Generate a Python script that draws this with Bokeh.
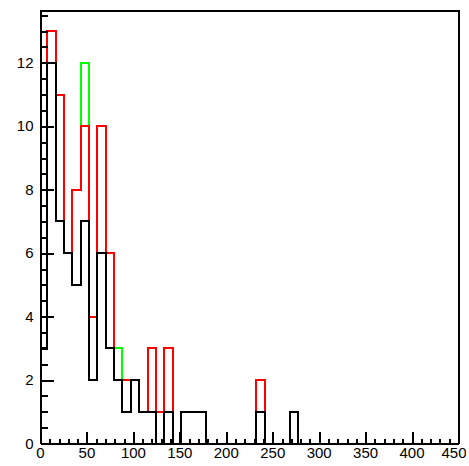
from bokeh.plotting import figure
from bokeh.models import FixedTicker, Range1d, InlineStyleSheet
from bokeh.embed import file_html
from bokeh.resources import INLINE

# Histogram binning (data units)
bin_lo = -1.8
bin_width = 9.0
n_bins = 50

# Bin contents (bins 0..30, rest empty)
green_counts = [3, 13, 11, 6, 8, 12, 4, 10, 6, 3, 2, 2, 1, 3, 1, 3, 0, 1, 1, 1,
                0, 0, 0, 0, 0, 0, 2, 0, 0, 0, 1]
red_counts = [3, 13, 11, 6, 8, 10, 4, 10, 6, 2, 2, 2, 1, 3, 1, 3, 0, 1, 1, 1,
              0, 0, 0, 0, 0, 0, 2, 0, 0, 0, 1]
black_counts = [3, 12, 7, 6, 5, 7, 2, 6, 3, 2, 1, 2, 1, 1, 0, 1, 0, 1, 1, 1,
                0, 0, 0, 0, 0, 0, 1, 0, 0, 0, 1]

x_ticks = [0, 50, 100, 150, 200, 250, 300, 350, 400, 450]
x_minor = list(range(0, 451, 10))
y_ticks = [0, 2, 4, 6, 8, 10, 12]
y_minor = [i * 0.5 for i in range(0, 28)]

x_max = 450
y_max = 13.65

edges = [bin_lo + bin_width * i for i in range(n_bins + 1)]


def padded(c):
    return list(c) + [0] * (n_bins - len(c)) + [0]


p = figure(width=466, height=464, output_backend="svg", toolbar_location=None,
           x_range=Range1d(0, x_max), y_range=Range1d(0, y_max),
           min_border_left=40, min_border_right=8, min_border_top=10,
           min_border_bottom=21)
p.stylesheets = [InlineStyleSheet(css=":host { shape-rendering: crispEdges; }")]
p.background_fill_color = "white"
p.border_fill_color = "white"
p.xgrid.visible = False
p.ygrid.visible = False
p.outline_line_color = "black"
p.outline_line_width = 2
p.outline_line_alpha = 1.0

for counts, col in [(green_counts, "#00ff00"), (red_counts, "#ff0000"),
                    (black_counts, "black")]:
    p.step(edges, padded(counts), mode="after", line_color=col,
           line_width=2, line_join="miter")

p.xaxis.ticker = FixedTicker(ticks=x_ticks, minor_ticks=x_minor)
p.yaxis.ticker = FixedTicker(ticks=y_ticks, minor_ticks=y_minor)

for ax in (p.xaxis[0], p.yaxis[0]):
    ax.axis_line_color = "black"
    ax.axis_line_width = 2
    ax.major_tick_line_color = "black"
    ax.minor_tick_line_color = "black"
    ax.major_tick_line_width = 2
    ax.minor_tick_line_width = 2
    ax.major_tick_out = 0
    ax.minor_tick_out = 0
    ax.major_label_text_font = "Liberation Sans"
    ax.major_label_text_font_size = "15px"
    ax.major_label_text_color = "black"

p.xaxis.major_tick_in = 12
p.xaxis.minor_tick_in = 5
p.xaxis.major_label_standoff = 4
p.yaxis.major_tick_in = 13
p.yaxis.minor_tick_in = 7
p.yaxis.major_label_standoff = 7

open("out.html", "w").write(file_html(p, INLINE))
